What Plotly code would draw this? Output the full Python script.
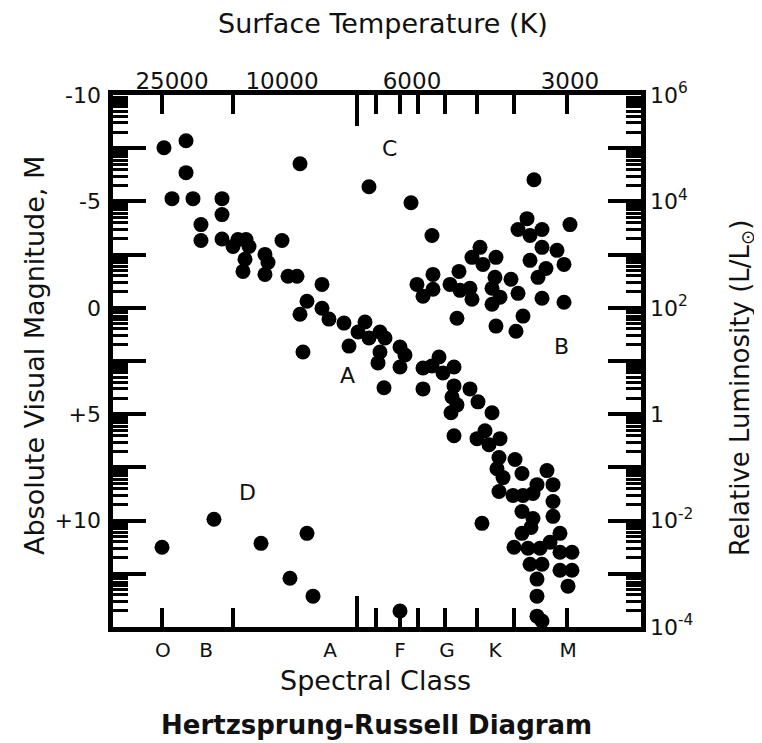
import math
import plotly.graph_objects as go

# ---------------- data (spectral index 0-100 across the panel, absolute visual magnitude) ----------------
main_x = [9.93, 14.10, 14.10, 11.45, 15.42, 20.91, 20.91, 16.93, 16.93, 20.91,
          22.99, 23.94, 25.45, 26.02, 25.26, 24.88, 29.04, 29.61, 29.04, 32.26,
          35.67, 48.72, 33.40, 35.10, 39.83, 36.99, 35.67, 39.83, 41.15, 43.99,
          47.97, 46.64, 48.72, 44.94, 36.23, 50.80, 51.75, 50.80, 50.43, 54.59,
          55.53, 54.59, 51.56, 58.94, 60.64, 61.97, 62.72, 64.81, 58.94, 64.81,
          67.83, 64.43, 65.37, 64.24, 69.35, 72.00, 64.81, 69.16, 70.67, 71.43,
          73.51, 73.32, 72.94, 74.08, 73.32, 76.35, 77.67, 82.40, 80.51, 83.54,
          75.97, 77.86, 79.75, 77.67, 79.75, 83.54, 83.54, 70.10, 79.37, 77.67,
          84.86, 82.97, 76.16, 78.81, 81.08, 84.86, 87.13, 79.19, 81.46, 84.86,
          87.13, 86.38, 80.51, 80.51, 80.51, 81.46]
main_m = [-7.52, -7.85, -6.35, -5.13, -5.13, -5.13, -4.38, -3.91, -3.16, -3.23,
          -2.88, -3.21, -3.21, -2.88, -2.28, -1.71, -2.51, -2.13, -1.57, -3.16,
          -6.77, -5.69, -1.48, -1.48, -1.10, -0.31, 0.30, 0.02, 0.53, 0.72,
          0.67, 1.14, 1.42, 1.80, 2.08, 1.14, 1.42, 2.08, 2.59, 1.84,
          2.22, 2.78, 3.76, 2.83, 2.73, 2.31, 3.06, 2.78, 3.81, 3.67,
          3.81, 4.19, 4.56, 4.93, 4.42, 4.93, 6.01, 6.15, 5.78, 6.43,
          6.15, 7.04, 7.56, 7.98, 8.63, 7.13, 7.79, 7.65, 8.31, 8.31,
          8.82, 8.82, 8.73, 9.57, 9.90, 9.10, 9.80, 10.13, 10.32, 10.60,
          10.60, 11.02, 11.25, 11.30, 11.30, 11.49, 11.49, 12.05, 12.05, 12.33,
          12.33, 13.08, 12.75, 13.55, 14.49, 14.72]

giant_x = [56.67, 60.64, 79.94, 86.75, 78.62, 76.92, 79.19, 81.46, 84.30, 85.62,
           81.46, 79.19, 82.21, 80.70, 81.46, 85.62, 69.73, 68.21, 70.29, 72.75,
           57.80, 60.83, 58.94, 60.83, 64.05, 65.75, 65.94, 67.83, 68.21, 65.37,
           72.56, 72.00, 73.51, 72.00, 75.59, 76.92, 72.75, 77.86, 76.54]
giant_m = [-4.94, -3.40, -6.02, -3.91, -4.19, -3.68, -3.40, -3.68, -2.70, -2.04,
           -2.84, -2.23, -1.85, -1.43, -0.45, -0.26, -2.84, -2.37, -2.04, -2.37,
           -1.10, -1.57, -0.54, -0.87, -1.10, -1.71, -0.82, -0.92, -0.40, 0.49,
           -1.43, -0.92, -0.50, -0.17, -1.34, -0.68, 0.86, 0.39, 1.10]

dwarf_x = [9.56, 19.39, 28.29, 36.99, 33.77, 38.13, 54.59]
dwarf_m = [11.25, 9.94, 11.07, 10.60, 12.71, 13.55, 14.25]

spectral_classes = ["O", "B", "A", "F", "G", "K", "M"]
spectral_pos = [9.74, 17.88, 41.34, 54.59, 63.48, 72.56, 86.38]

temp_labels = ["25000", "10000", "6000", "3000"]
temp_label_pos = [11.45, 32.26, 56.86, 86.75]
temp_major_tick = [46.45]
temp_minor_ticks = [9.56, 22.99, 50.05, 54.59, 58.00, 63.10, 69.16, 76.16, 86.19]

mag_label_vals = [-10, -5, 0, 5, 10]
mag_label_text = ["-10", "-5", "0", "+5", "+10"]

lum_vals = [1e-4, 1e-2, 1, 1e2, 1e4, 1e6]
lum_text = ["10<sup>-4</sup>", "10<sup>-2</sup>", "1", "10<sup>2</sup>", "10<sup>4</sup>", "10<sup>6</sup>"]

region_text = ["A", "B", "C", "D"]
region_x = [44.56, 85.24, 52.51, 25.64]
region_m = [3.16, 1.80, -7.47, 8.68]

# ---------------- tick positions (luminosity decades expressed in magnitudes) ----------------
decade_m = [5 - 2.5 * k for k in range(-4, 7)]
minor_m = [5 - 2.5 * (k + math.log10(mm)) for k in range(-4, 6) for mm in range(2, 10)]

XR = [0.284, 100.19]
YR = [15, -10]
FONT = "DejaVu Sans"
INK = "#111111"
PAGE_PAD = 8  # default body margin of the page holding the figure

fig = go.Figure()
for xs, ms in [(main_x, main_m), (giant_x, giant_m), (dwarf_x, dwarf_m)]:
    fig.add_trace(go.Scatter(x=xs, y=ms, mode="markers",
                             marker=dict(size=15, color="black", line=dict(width=0)),
                             cliponaxis=False, showlegend=False, hoverinfo="skip"))

# invisible helpers so that the overlaying label axes are rendered
for xa, ya, yv in [("x2", "y", 0), ("x3", "y", 0), ("x", "y2", 1), ("x", "y3", 0)]:
    fig.add_trace(go.Scatter(x=[50], y=[yv], xaxis=xa, yaxis=ya, mode="markers",
                             marker=dict(opacity=0), showlegend=False, hoverinfo="skip"))

label_axis = dict(showgrid=False, zeroline=False, showline=False, ticks="", tickmode="array")

fig.update_layout(
    width=762 - PAGE_PAD, height=743 - PAGE_PAD,
    margin=dict(l=113 - PAGE_PAD, r=121, t=95 - PAGE_PAD, b=116),
    paper_bgcolor="white", plot_bgcolor="white",
    font=dict(family=FONT, color=INK, size=22),
    xaxis=dict(range=XR, showgrid=False, zeroline=False, showline=True, linewidth=4.5,
               linecolor="black", mirror="ticks", ticks="inside", tickmode="array",
               tickvals=temp_major_tick, ticklen=31, tickwidth=4, tickcolor="black",
               showticklabels=False,
               minor=dict(tickmode="array", tickvals=temp_minor_ticks, ticks="inside",
                          ticklen=19, tickwidth=4, tickcolor="black", showgrid=False)),
    xaxis2=dict(overlaying="x", side="top", anchor="y", range=XR,
                tickvals=temp_label_pos, ticktext=temp_labels,
                tickfont=dict(size=23, family=FONT, color=INK), ticklabelstandoff=0,
                **label_axis),
    xaxis3=dict(overlaying="x", side="bottom", anchor="y", range=XR,
                tickvals=spectral_pos, ticktext=spectral_classes,
                tickfont=dict(size=20, family=FONT, color=INK), ticklabelstandoff=9,
                **label_axis),
    yaxis=dict(range=YR, showgrid=False, zeroline=False, showline=True, linewidth=4.5,
               linecolor="black", mirror="ticks", ticks="inside", tickmode="array",
               tickvals=decade_m, ticklen=33, tickwidth=4, tickcolor="black",
               showticklabels=False,
               minor=dict(tickmode="array", tickvals=minor_m, ticks="inside", ticklen=15,
                          tickwidth=3, tickcolor="black", showgrid=False)),
    yaxis3=dict(overlaying="y", side="left", anchor="x", range=YR,
                tickvals=mag_label_vals, ticktext=mag_label_text,
                tickfont=dict(size=22, family=FONT, color=INK), ticklabelstandoff=11,
                **label_axis),
    yaxis2=dict(overlaying="y", side="right", anchor="x", type="log", range=[-4, 6],
                tickvals=lum_vals, ticktext=lum_text,
                tickfont=dict(size=22, family=FONT, color=INK), ticklabelstandoff=8,
                **label_axis),
)

ann = [
    dict(text="Surface Temperature (K)", xref="paper", yref="paper", x=0.5123, y=1.1353,
         font=dict(size=27)),
    dict(text="Spectral Class", xref="paper", yref="paper", x=0.4981, y=-0.1015,
         font=dict(size=27)),
    dict(text="<b>Hertzsprung-Russell Diagram</b>", xref="paper", yref="paper", x=0.499,
         y=-0.1842, font=dict(size=26)),
    dict(text="Absolute Visual Magnitude, M", xref="paper", yref="paper", x=-0.1477,
         y=0.5094, textangle=-90, font=dict(size=27)),
    dict(text="Relative Luminosity (L/L<sub>⊙</sub>)", xref="paper", yref="paper",
         x=1.1894, y=0.4492, textangle=-90, font=dict(size=26)),
]
for t, xv, mv in zip(region_text, region_x, region_m):
    ann.append(dict(text=t, xref="x", yref="y", x=xv, y=mv, font=dict(size=22)))
for a in ann:
    a.update(showarrow=False, xanchor="center", yanchor="middle")
    a["font"].update(family=FONT, color=INK)
fig.update_layout(annotations=ann)

fig.write_html("out.html")
